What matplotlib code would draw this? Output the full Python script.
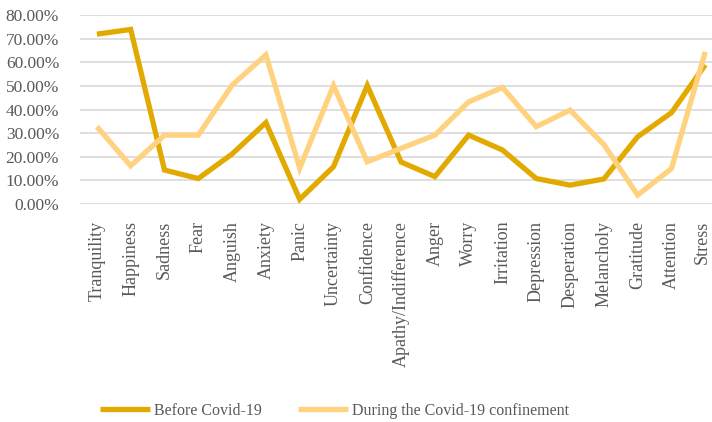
import numpy as np
import matplotlib.pyplot as plt
import matplotlib.transforms as mtransforms
from matplotlib.ticker import PercentFormatter

categories = ['Tranquility', 'Happiness', 'Sadness', 'Fear', 'Anguish', 'Anxiety',
              'Panic', 'Uncertainty', 'Confidence', 'Apathy/Indifference', 'Anger',
              'Worry', 'Irritation', 'Depression', 'Desperation', 'Melancholy',
              'Gratitude', 'Attention', 'Stress']

before = [72.0, 74.0, 14.4, 10.8, 21.2, 34.5, 2.0, 15.8, 50.2, 17.8, 11.6,
          29.2, 22.9, 10.8, 8.0, 10.6, 28.5, 38.7, 59.0]
during = [32.8, 16.2, 29.2, 29.2, 50.4, 63.2, 15.2, 50.2, 17.9, 23.6, 29.2,
          43.3, 49.4, 32.8, 39.8, 25.2, 3.8, 15.0, 64.5]

plt.rcParams['font.family'] = ['Liberation Serif', 'DejaVu Serif']
text_color = '#595959'

fig = plt.figure(figsize=(7.12, 4.22), dpi=100)
ax = fig.add_axes([80 / 712, 1 - 204 / 422, 1 - 80 / 712, (204 - 15.3) / 422])

x = np.arange(len(categories))
ax.plot(x, before, color='#E2AA00', lw=3.8, solid_joinstyle='miter',
        solid_capstyle='butt', label='Before Covid-19', zorder=3, clip_on=False)
ax.plot(x, during, color='#FFD280', lw=3.8, solid_joinstyle='miter',
        solid_capstyle='butt', label='During the Covid-19 confinement', zorder=3,
        clip_on=False)

ax.set_ylim(0, 80)
ax.set_xlim(-0.5, 18.2)
ax.set_yticks(np.arange(0, 81, 10))
ax.yaxis.set_major_formatter(PercentFormatter(decimals=2))
ax.grid(axis='y', color='#D9D9D9', lw=1.2)
ax.set_axisbelow(True)
for s in ax.spines.values():
    s.set_visible(False)

ax.set_xticks(x)
ax.set_xticklabels(categories, rotation=90, fontsize=13, color=text_color)
ax.tick_params(axis='both', length=0, labelcolor=text_color)
ax.tick_params(axis='y', labelsize=12.5, pad=15)
ax.tick_params(axis='x', pad=12)

# last label sits on the right edge, nudge it in a little
last = ax.get_xticklabels()[-1]
last.set_transform(last.get_transform() +
                   mtransforms.ScaledTranslation(-3 / 100, 0, fig.dpi_scale_trans))

leg = fig.legend(loc='center', bbox_to_anchor=(0.47, 0.026), ncol=2, frameon=False,
                 fontsize=11.5, handlelength=3.1, handletextpad=0.25,
                 columnspacing=2.3)
for t in leg.get_texts():
    t.set_color(text_color)

fig.savefig('out.png', dpi=100)
